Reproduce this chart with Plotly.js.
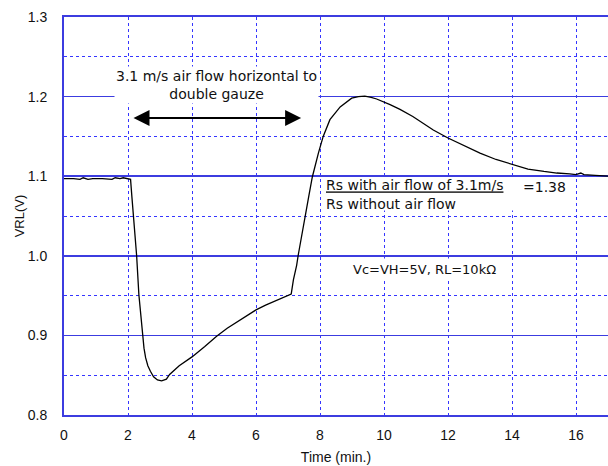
<!DOCTYPE html>
<html>
<head>
<meta charset="utf-8">
<script src="https://cdn.plot.ly/plotly-3.0.1.min.js"></script>
<style>html,body{margin:0;padding:0;background:#fff;}#chart{width:608px;height:466px;}</style>
</head>
<body>
<div id="chart"></div>
<script>
// Time (min.)
var timeMin = [0, 0.3, 0.5, 0.6, 0.75, 0.9, 1.2, 1.5, 1.6, 1.75, 1.85, 2.0, 2.08, 2.12, 2.17, 2.22, 2.27, 2.34, 2.40, 2.45, 2.50, 2.55, 2.62, 2.70, 2.80, 2.92, 3.05, 3.20, 3.30, 3.60, 4.00, 4.40, 4.77, 5.10, 5.40, 5.70, 6.00, 6.30, 6.65, 6.90, 7.10, 7.17, 7.22, 7.27, 7.32, 7.42, 7.53, 7.65, 7.76, 7.85, 7.95, 8.10, 8.31, 8.63, 8.99, 9.20, 9.40, 9.60, 9.77, 10.19, 10.50, 10.90, 11.20, 11.54, 12.00, 12.50, 13.00, 13.50, 14.04, 14.50, 15.00, 15.40, 15.80, 16.00, 16.15, 16.25, 16.60, 17.00];
// VRL (V)
var vrl = [1.097, 1.097, 1.096, 1.098, 1.096, 1.097, 1.097, 1.096, 1.098, 1.097, 1.098, 1.097, 1.096, 1.075, 1.049, 1.025, 1.000, 0.951, 0.925, 0.900, 0.884, 0.872, 0.862, 0.855, 0.848, 0.844, 0.843, 0.845, 0.851, 0.862, 0.873, 0.886, 0.899, 0.909, 0.917, 0.925, 0.932, 0.938, 0.944, 0.949, 0.952, 0.970, 0.978, 0.988, 1.001, 1.025, 1.049, 1.075, 1.099, 1.115, 1.129, 1.150, 1.171, 1.187, 1.198, 1.200, 1.2005, 1.199, 1.197, 1.190, 1.184, 1.175, 1.167, 1.158, 1.148, 1.138, 1.129, 1.121, 1.114, 1.109, 1.106, 1.104, 1.103, 1.102, 1.104, 1.102, 1.101, 1.100];

var xTickVals = [0, 2, 4, 6, 8, 10, 12, 14, 16];
var yTickVals = [0.8, 0.9, 1.0, 1.1, 1.2, 1.3];
var yTickText = ['0.8', '0.9', '1.0', '1.1', '1.2', '1.3'];

var flowText = '3.1 m/s air flow horizontal to<br>double gauze';
var ratioTop = 'Rs with air flow of 3.1m/s';
var ratioBottom = 'Rs without air flow';
var ratioValue = '=1.38';
var condText = 'Vc=VH=5V, RL=10k\u03A9';
var flowStart = 2.125, flowEnd = 7.41;

var solidBlue = '#3c3ce0';
var dotBlue = '#3535ff';
var annFont = {family: 'DejaVu Sans', size: 14, color: '#111'};
var condFont = {family: 'DejaVu Sans', size: 13, color: '#111'};

var trace = {
  x: timeMin, y: vrl, type: 'scatter', mode: 'lines',
  line: {color: '#000', width: 1.3},
  hoverinfo: 'skip', showlegend: false
};

var layout = {
  width: 608, height: 466,
  margin: {l: 64, r: 0, t: 17, b: 51},
  paper_bgcolor: '#fff', plot_bgcolor: '#fff',
  font: {family: 'Liberation Sans, Arial', size: 14, color: '#111'},
  xaxis: {
    range: [0, 17], tickvals: xTickVals, ticks: '',
    showgrid: true, gridcolor: dotBlue, griddash: 'dot', gridwidth: 1,
    showline: true, linecolor: solidBlue, linewidth: 2, mirror: true,
    zeroline: false, ticklabelstandoff: 6,
    title: {text: 'Time (min.)', font: {size: 14}, standoff: 10}
  },
  yaxis: {
    range: [0.8, 1.3], tickvals: yTickVals, ticktext: yTickText, ticks: '',
    showgrid: true, gridcolor: solidBlue, gridwidth: 1.5,
    minor: {dtick: 0.05, tick0: 0.8, showgrid: true, gridcolor: dotBlue, griddash: 'dot', gridwidth: 1},
    showline: true, linecolor: solidBlue, linewidth: 2,
    zeroline: false, ticklabelstandoff: 12,
    title: {text: 'VRL(V)', font: {size: 13}, standoff: 0}
  },
  annotations: [
    {xref: 'x', yref: 'y', x: 4.78, y: 1.2146, text: flowText, showarrow: false,
     font: annFont, bgcolor: '#fff', borderpad: 1, align: 'center'},
    {xref: 'x', yref: 'y', x: flowEnd, y: 1.173, axref: 'x', ayref: 'y', ax: flowStart, ay: 1.173,
     text: '', showarrow: true, arrowside: 'end+start', arrowhead: 2, arrowsize: 1.6, arrowwidth: 2, arrowcolor: '#000'},
    {xref: 'x', yref: 'y', x: 12.02, y: 1.077, text: '<u>' + ratioTop + '</u><br>' + ratioBottom,
     showarrow: false, font: annFont, bgcolor: '#fff', borderpad: 0, width: 245, height: 31, align: 'left'},
    {xref: 'x', yref: 'y', x: 15.03, y: 1.0864, text: ratioValue, showarrow: false, font: annFont},
    {xref: 'x', yref: 'y', x: 11.28, y: 0.9822, text: condText, showarrow: false,
     font: condFont, bgcolor: '#fff', borderpad: 3}
  ]
};

Plotly.newPlot('chart', [trace], layout, {staticPlot: true, displayModeBar: false});
</script>
</body>
</html>
